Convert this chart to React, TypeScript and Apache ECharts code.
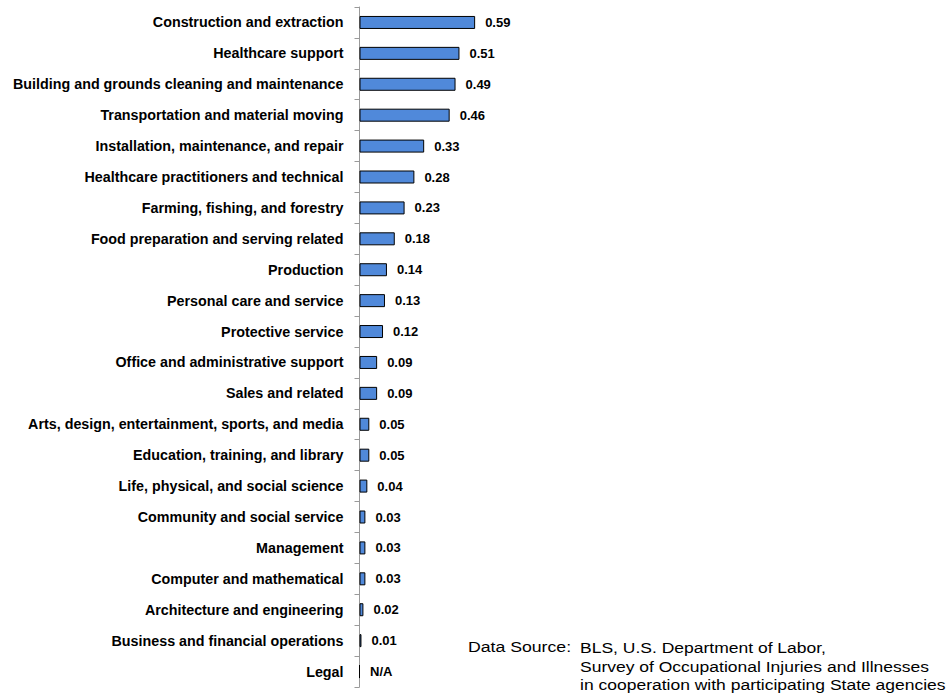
import React, { useEffect, useRef } from "react";
import * as echarts from "echarts";

const categories = [
  "Construction and extraction",
  "Healthcare support",
  "Building and grounds cleaning and maintenance",
  "Transportation and material moving",
  "Installation, maintenance, and repair",
  "Healthcare practitioners and technical",
  "Farming, fishing, and forestry",
  "Food preparation and serving related",
  "Production",
  "Personal care and service",
  "Protective service",
  "Office and administrative support",
  "Sales and related",
  "Arts, design, entertainment, sports, and media",
  "Education, training, and library",
  "Life, physical, and social science",
  "Community and social service",
  "Management",
  "Computer and mathematical",
  "Architecture and engineering",
  "Business and financial operations",
  "Legal",
];

const values: (number | null)[] = [
  0.59, 0.51, 0.49, 0.46, 0.33, 0.28, 0.23, 0.18, 0.14, 0.13, 0.12, 0.09, 0.09,
  0.05, 0.05, 0.04, 0.03, 0.03, 0.03, 0.02, 0.01, null,
];

const sourceLabel = "Data Source:";
const sourceLines = [
  "BLS, U.S. Department of Labor,",
  "Survey of Occupational Injuries and Illnesses",
  "in cooperation with participating State agencies",
];

export default function App() {
  const ref = useRef<HTMLDivElement>(null);
  useEffect(() => {
    if (!ref.current) return;
    const chart = echarts.init(ref.current, null, { renderer: "svg" });
    const font = "Liberation Sans, Arial, sans-serif";
    const data = values.map((v) =>
      v === null
        ? { value: 0, label: { formatter: "N/A" } }
        : { value: v }
    );
    chart.setOption({
      animation: false,
      grid: { left: 359.5, top: 7, width: 196, height: 680, containLabel: false },
      xAxis: {
        type: "value",
        min: 0,
        max: 1,
        show: false,
      },
      yAxis: {
        type: "category",
        data: categories,
        inverse: true,
        axisLine: { show: true, lineStyle: { color: "#9a9a9a", width: 1 } },
        axisTick: { show: true, length: 5, lineStyle: { color: "#9a9a9a" } },
        axisLabel: {
          color: "#000",
          fontFamily: font,
          fontWeight: "bold",
          fontSize: 14.3,
          margin: 16,
        },
        splitLine: { show: false },
      },
      series: [
        {
          type: "bar",
          data,
          barWidth: 13,
          itemStyle: { color: "#5089DA", borderColor: "#000", borderWidth: 1 },
          label: {
            show: true,
            position: "right",
            distance: 10,
            color: "#000",
            fontFamily: font,
            fontWeight: "bold",
            fontSize: 13,
            formatter: (p: any) => p.value.toFixed(2),
          },
        },
      ],
      graphic: [
        {
          type: "text",
          x: 468,
          y: 639,
          scaleX: 1.14,
          style: { text: sourceLabel, font: `15.5px ${font}`, fill: "#000" },
        },
        {
          type: "text",
          x: 580,
          y: 639,
          scaleX: 1.13,
          style: {
            text: sourceLines.join("\n"),
            font: `15.5px ${font}`,
            lineHeight: 18.5,
            fill: "#000",
          },
        },
      ],
    });
    return () => chart.dispose();
  }, []);
  return (
    <div
      ref={ref}
      style={{ position: "absolute", left: 0, top: 0, width: 948, height: 700 }}
    />
  );
}
